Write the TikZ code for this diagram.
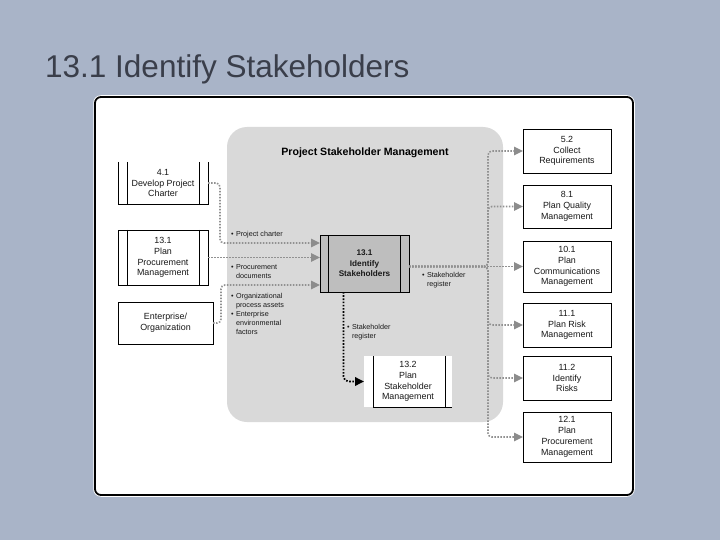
\documentclass[tikz,border=0pt]{standalone}
\usepackage{fontspec}
\setmainfont{Liberation Sans}
\usetikzlibrary{arrows.meta}
\definecolor{slidebg}{RGB}{169,180,200}
\definecolor{titlecol}{RGB}{58,62,74}
\definecolor{areagray}{RGB}{217,217,217}
\definecolor{procgray}{RGB}{190,190,190}
\definecolor{conncol}{RGB}{145,145,145}
\definecolor{headcol}{RGB}{140,140,140}
\tikzset{
  boxtxt/.style={font=\fontsize{8.9}{10.8}\selectfont, align=center, inner sep=0pt, outer sep=0pt, text=black!90},
  labtxt/.style={font=\fontsize{7.2}{9}\selectfont, anchor=west, inner sep=0pt, outer sep=0pt, align=left, text=black!90},
  rbox/.style={boxtxt, draw=black, line width=0.9pt, fill=white, minimum width=88pt},
  edge/.style={black, line width=0.9pt},
  conn/.style={conncol, line width=1.6pt, dash pattern=on 1.5pt off 1.5pt, rounded corners=4pt,
     -{Triangle[length=9pt,width=8.5pt,fill=headcol,color=headcol,sep=0pt]}},
  blkconn/.style={black, line width=1.8pt, dash pattern=on 1.6pt off 1.6pt, rounded corners=5pt,
     -{Triangle[length=9pt,width=8.5pt,fill=black,sep=0pt]}}
}
\newcommand{\bitem}[2]{\begin{tabular}{@{}l@{\hspace{2.5pt}}l@{}}\textbullet & #1\\ & #2\end{tabular}}
\begin{document}
\begin{tikzpicture}[x=1pt,y=-1pt]
\useasboundingbox (0,0) rectangle (720,540);
\fill[slidebg] (0,0) rectangle (720,540);
% title
\node[anchor=base west, inner sep=0pt, text=titlecol, font=\fontsize{31.5}{36}\selectfont] (title) at (45,78) {13.1 Identify Stakeholders};
% white panel
\draw[white, line width=3.5pt, rounded corners=6pt] (95,97) rectangle (633,495);
\draw[black, fill=white, line width=1.8pt, rounded corners=6pt] (95,97) rectangle (633,495);
% gray area
\fill[areagray, rounded corners=20pt] (227,127) rectangle (503,422);
\node[font=\fontsize{10.6}{12}\selectfont\bfseries, inner sep=0pt] (area) at (365,153) {Project Stakeholder Management};

% left: 4.1
\node[boxtxt, minimum width=90pt, minimum height=42pt] (p41) at (163,183) {4.1\\Develop Project\\Charter};
\draw[edge] (p41.north west) -- (p41.south west) -- (p41.south east) -- (p41.north east);
\draw[edge] ([xshift=9pt]p41.north west) -- ([xshift=9pt]p41.south west);
\draw[edge] ([xshift=-9pt]p41.north east) -- ([xshift=-9pt]p41.south east);
% left: 13.1 plan procurement
\node[boxtxt, minimum width=90pt, minimum height=55pt] (ppm) at (163,257.5) {13.1\\Plan\\Procurement\\Management};
\draw[edge] (ppm.north west) rectangle (ppm.south east);
\draw[edge] ([xshift=9pt]ppm.north west) -- ([xshift=9pt]ppm.south west);
\draw[edge] ([xshift=-9pt]ppm.north east) -- ([xshift=-9pt]ppm.south east);
% left: enterprise
\node[boxtxt, draw=black, line width=0.9pt, minimum width=95pt, minimum height=42pt] (ent) at (165.5,323) {Enterprise/\\Organization};

% central process
\node[boxtxt, font=\fontsize{8.2}{10.4}\selectfont\bfseries, fill=procgray, minimum width=89pt, minimum height=57pt] (ident) at (364.5,263.5) {13.1\\Identify\\Stakeholders};
\draw[edge] (ident.north west) rectangle (ident.south east);
\draw[edge] ([xshift=8pt]ident.north west) -- ([xshift=8pt]ident.south west);
\draw[edge] ([xshift=-9pt]ident.north east) -- ([xshift=-9pt]ident.south east);

% 13.2
\node[boxtxt, fill=white, minimum width=88pt, minimum height=51pt] (s132) at (408,381.5) {13.2\\Plan\\Stakeholder\\Management};
\draw[edge] ([xshift=9pt]s132.north west) -- ([xshift=9pt]s132.south west) -- (s132.south east);
\draw[edge] ([xshift=-7pt]s132.north east) -- ([xshift=-7pt]s132.south east);

% right boxes
\node[rbox, minimum height=44pt] (r52) at (567,151) {5.2\\Collect\\Requirements};
\node[rbox, minimum height=43pt] (r81) at (567,206.5) {8.1\\Plan Quality\\Management};
\node[rbox, minimum height=51pt] (r101) at (567,266.5) {10.1\\Plan\\Communications\\Management};
\node[rbox, minimum height=44pt] (r111) at (567,325) {11.1\\Plan Risk\\Management};
\node[rbox, minimum height=44pt] (r112) at (567,378) {11.2\\Identify\\Risks};
\node[rbox, minimum height=50pt] (r121) at (567,437) {12.1\\Plan\\Procurement\\Management};

% input connectors
\coordinate (lb1) at (220,243);
\coordinate (lb3) at (221,285);
\draw[conn] (p41.east) -| (lb1) -- (ident.west |- lb1);
\draw[conn] (ppm.east) -- (ident.west |- ppm.east);
\draw[conn] (ent.east) -| (lb3) -- (ident.west |- lb3);

% output connectors
\coordinate (bus) at (488,266.5);
\draw[conn] (ident.east |- r101.west) -- (r101.west);
\foreach \r in {r52,r81,r111,r112,r121}{
  \draw[conn] (ident.east |- r101.west) -- (bus) |- (\r.west);
}
\draw[blkconn] ([xshift=-21pt]ident.south) |- (s132.west);

% labels
\node[labtxt] (l1) at (231,235) {\textbullet\hspace{2.5pt}Project charter};
\node[labtxt] (l2) at (231,272) {\bitem{Procurement}{documents}};
\node[labtxt] (l3) at (231,301.5) {\bitem{Organizational}{process assets}};
\node[labtxt] (l4) at (231,324) {\begin{tabular}{@{}l@{\hspace{2.5pt}}l@{}}\textbullet & Enterprise\\ & environmental\\ & factors\end{tabular}};
\node[labtxt] (l5) at (422,280) {\bitem{Stakeholder}{register}};
\node[labtxt] (l6) at (347,332) {\bitem{Stakeholder}{register}};
\end{tikzpicture}
\end{document}
